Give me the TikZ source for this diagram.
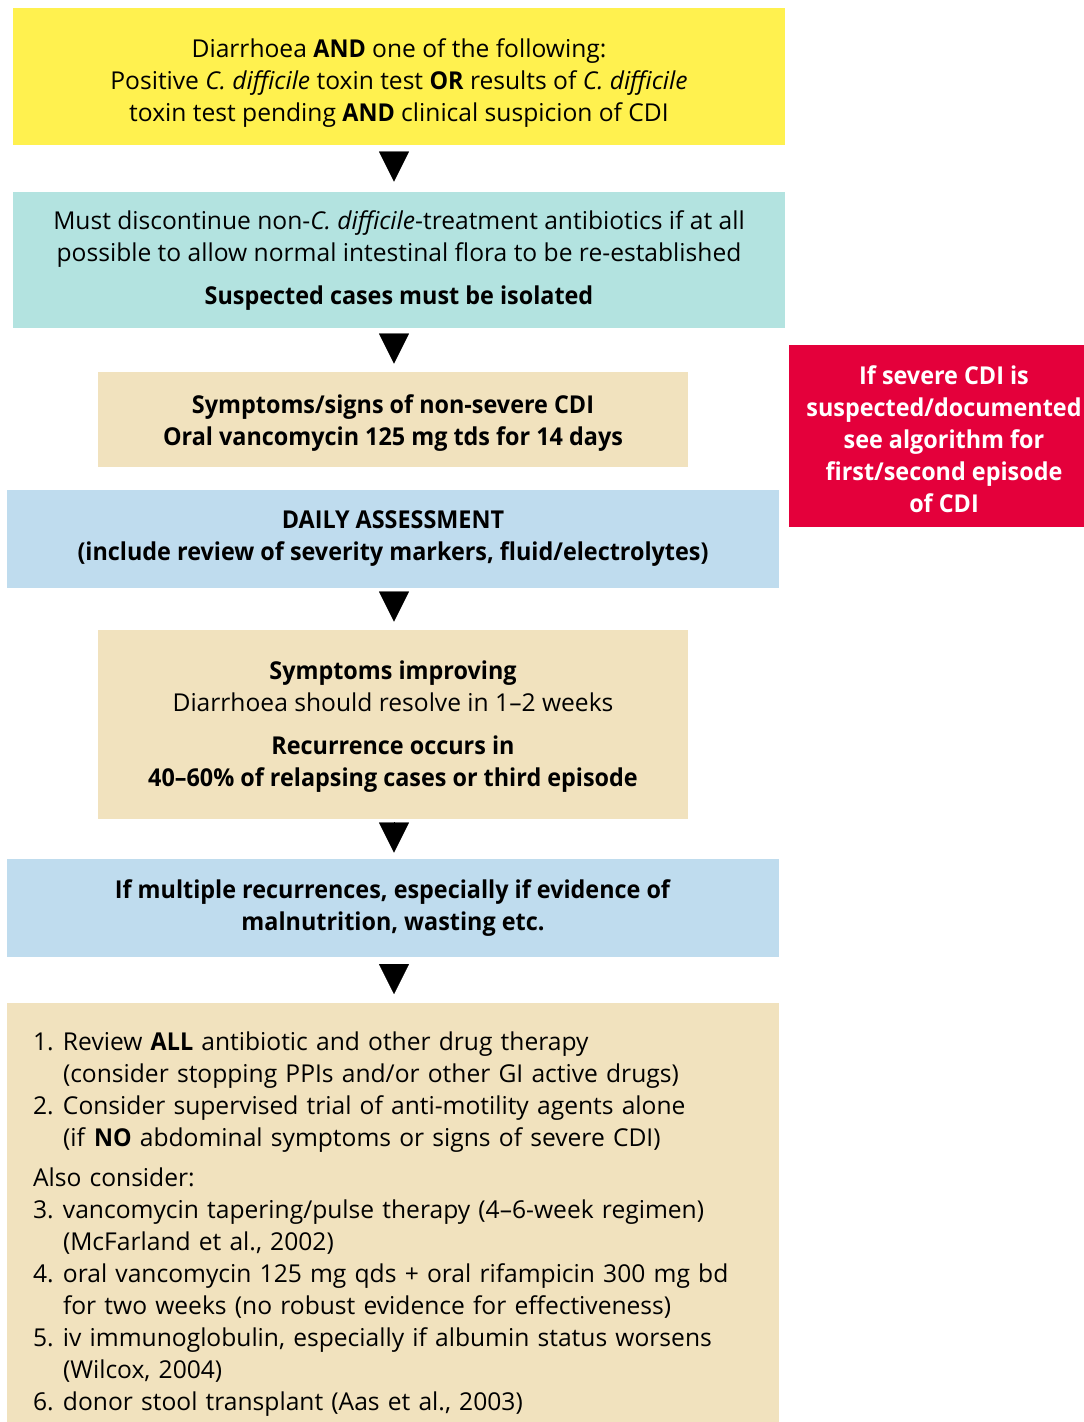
\documentclass[tikz,border=0pt]{standalone}
\usepackage{fontspec}
\setmainfont{Open Sans}[BoldFeatures={FakeStretch=0.95}]
\usetikzlibrary{calc,arrows.meta}
\definecolor{cyellow}{HTML}{FFF14F}
\definecolor{cteal}{HTML}{B3E3E0}
\definecolor{cbeige}{HTML}{F1E2BE}
\definecolor{cblue}{HTML}{BFDCEE}
\definecolor{cred}{HTML}{E4003B}
\newcommand{\itm}[1]{\makebox[15pt][l]{#1}}
\newcommand{\dn}[1]{\rule{0pt}{\dimexpr 9.5pt+2\dimexpr #1\relax\relax}}
\tikzset{
      boxw/.style={
          rectangle,
          inner sep=0pt,
          minimum width=386pt,
          align=center,
          font=\fontsize{12.3}{16}\selectfont
      },
      boxn/.style={
          boxw,
          minimum width=295pt
      },
      tri/.style={
          -{Triangle[width=15pt,length=15pt]},
          line width=0.1pt
      }
  }

\begin{document}
\begin{tikzpicture}[x=0.5pt,y=-0.5pt]
    \useasboundingbox (0,0) rectangle (1083,1422);
    \coordinate (axis) at (394,0);

    \node [boxw, fill=cyellow, minimum height=68.5pt] (cond) at (399,76.5)
        {\dn{3pt}Diarrhoea \textbf{AND} one of the following:\\
         Positive \textit{C. difficile} toxin test \textbf{OR} results of \textit{C. difficile}\\
         toxin test pending \textbf{AND} clinical suspicion of CDI};
    \node [boxw, fill=cteal, minimum height=68pt] (stop) at (399,260)
        {\dn{0pt}Must discontinue non-\textit{C. difficile}-treatment antibiotics if at all\\
         possible to allow normal intestinal flora to be re-established\\[5.5pt]
         \textbf{Suspected cases must be isolated}};
    \node [boxn, fill=cbeige, minimum height=47.5pt] (oral) at (393,419.5)
        {\dn{1.5pt}\textbf{Symptoms/signs of non-severe CDI}\\
         \textbf{Oral vancomycin 125 mg tds for 14 days}};
    \node [boxw, fill=cblue, minimum height=49pt] (daily) at (393,539)
        {\textbf{DAILY ASSESSMENT}\\
         \textbf{(include review of severity markers, fluid/electrolytes)}};
    \node [boxn, fill=cbeige, minimum height=94.5pt] (impr) at (393,724.5)
        {\dn{1pt}\textbf{Symptoms improving}\\
         Diarrhoea should resolve in 1--2 weeks\\[5.5pt]
         \textbf{Recurrence occurs in}\\
         \textbf{40--60\% of relapsing cases or third episode}};
    \node [boxw, fill=cblue, minimum height=49pt] (mult) at (393,908)
        {\textbf{If multiple recurrences, especially if evidence of}\\
         \textbf{malnutrition, wasting etc.}};
    \node [boxw, fill=cbeige, anchor=north, align=left, text width=360pt,
           inner xsep=13pt, inner ysep=14pt] (list) at (393,1003)
        {\itm{1.}Review \textbf{ALL} antibiotic and other drug therapy\\
         \itm{}(consider stopping PPIs and/or other GI active drugs)\\
         \itm{2.}Consider supervised trial of anti-motility agents alone\\
         \itm{}(if \textbf{NO} abdominal symptoms or signs of severe CDI)\\[4pt]
         Also consider:\\
         \itm{3.}vancomycin tapering/pulse therapy (4--6-week regimen)\\
         \itm{}(McFarland et al., 2002)\\
         \itm{4.}oral vancomycin 125 mg qds + oral rifampicin 300 mg bd\\
         \itm{}for two weeks (no robust evidence for effectiveness)\\
         \itm{5.}iv immunoglobulin, especially if albumin status worsens\\
         \itm{}(Wilcox, 2004)\\
         \itm{6.}donor stool transplant (Aas et al., 2003)\\[6pt]
        };

    \node [boxw, fill=cred, text=white, minimum width=155pt, minimum height=91pt] (sev) at (944,436)
        {\dn{1.5pt}\textbf{If severe CDI is}\\
         \textbf{suspected/documented}\\
         \textbf{see algorithm for}\\
         \textbf{first/second episode}\\
         \textbf{of CDI}};

    %%
    \draw[tri, shorten <=3.5pt, shorten >=5pt]   (cond.south -| axis) -- (stop.north -| axis);
    \draw[tri, shorten <=3pt, shorten >=4pt]     (stop.south -| axis) -- (oral.north -| axis);
    \draw[tri, shorten <=2pt, shorten >=4pt]     (daily.south -| axis) -- (impr.north -| axis);
    \draw[tri, shorten <=1.5pt, shorten >=3pt]   (impr.south -| axis) -- (mult.north -| axis);
    \draw[tri, shorten <=3.5pt, shorten >=4.5pt] (mult.south -| axis) -- (list.north -| axis);
    %%
\end{tikzpicture}
\end{document}
